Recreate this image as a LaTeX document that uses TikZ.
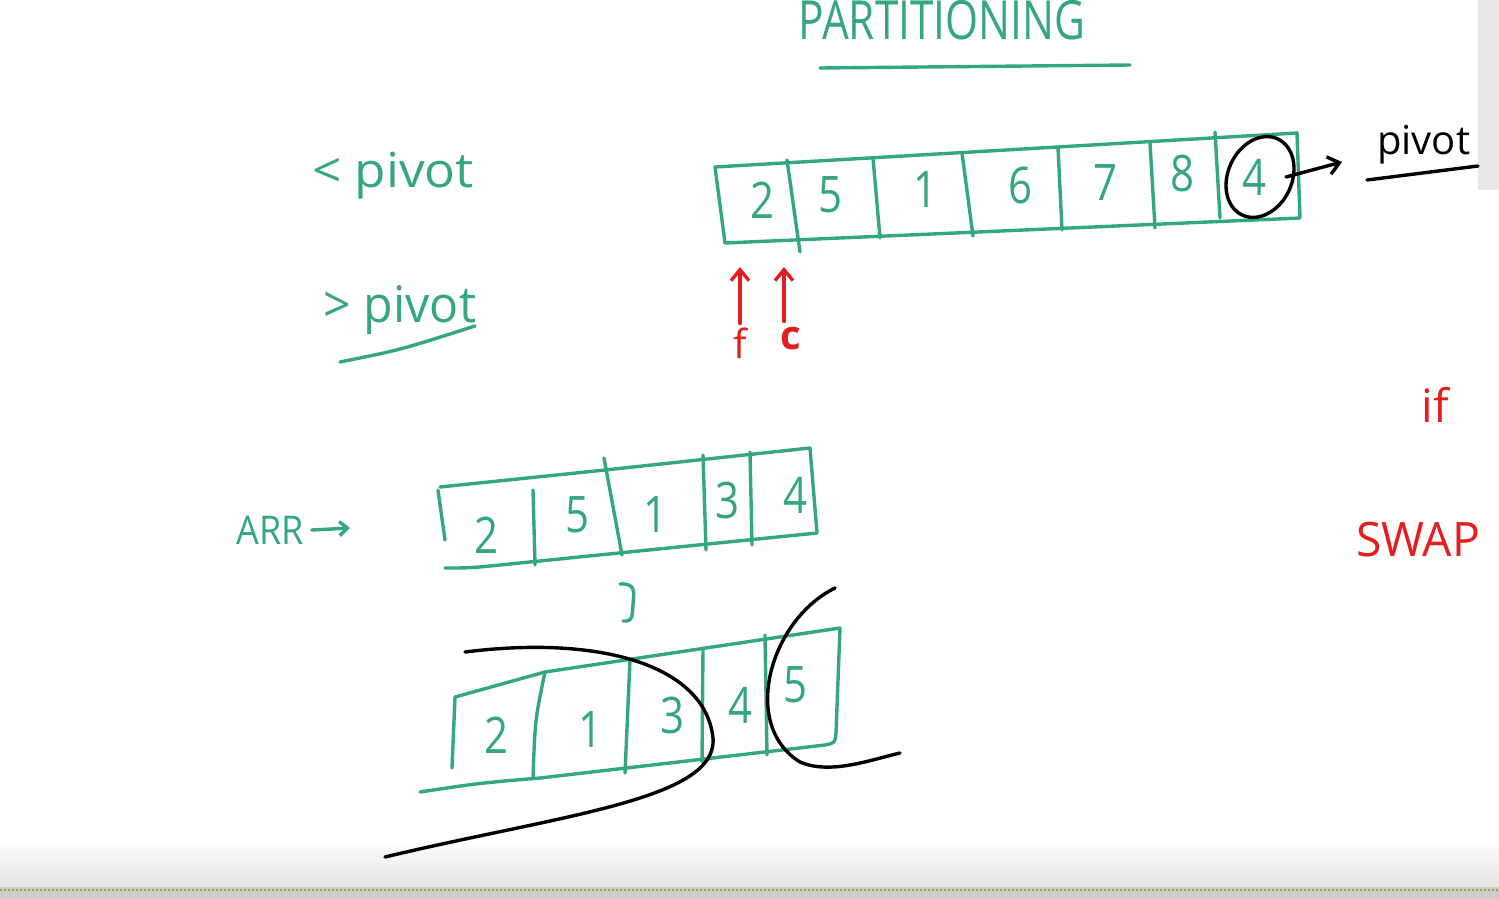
\documentclass[tikz,border=0pt]{standalone}
\usepackage{fontspec}
\setmainfont{Open Sans}
\usetikzlibrary{shapes.geometric,arrows.meta}
\definecolor{ink}{RGB}{52,166,128}
\definecolor{redink}{RGB}{228,30,30}
\begin{document}
\begin{tikzpicture}[x=1pt,y=-1pt,
  gl/.style={draw=ink,line width=3.4pt,line cap=round,line join=round},
  bl/.style={draw=black,line width=3.4pt,line cap=round,line join=round},
  rl/.style={draw=redink,line width=3.4pt,line cap=round,line join=round},
  gtxt/.style={text=ink,inner sep=0pt},
  cell/.style={text=ink,inner sep=0pt,font=\fontsize{42}{42}\selectfont},
  btxt/.style={text=black,inner sep=0pt},
  rtxt/.style={text=redink,inner sep=0pt},
  barb/.style={-{Straight Barb[length=11pt,width=18pt,line width=3.4pt]}}]
\useasboundingbox (0,0) rectangle (1499,899);
% background
\fill[white] (0,0) rectangle (1499,899);
\fill[gray!18] (1478,0) rectangle (1499,190);
\shade[top color=white,bottom color=gray!22] (0,840) rectangle (1499,887);
\fill[gray!40] (0,887) rectangle (1499,899);
\draw[yellow!60!black,line width=2pt,dash pattern=on 2pt off 2pt] (0,890) -- (1499,890);

% title
\node[gtxt,font=\fontsize{40}{40}\selectfont] (title) at (942,20) {\scalebox{1.06}[1.35]{PARTITIONING}};
\coordinate (tu1) at (820,68);
\coordinate (tu2) at (1130,65);
\draw[gl] (tu1) -- (tu2);

% left labels
\node[gtxt,font=\fontsize{42}{42}\selectfont] (lt) at (393,176) {\scalebox{1.22}[1.15]{< pivot}};
\node[gtxt,font=\fontsize{42}{42}\selectfont] (gt) at (400,310) {\scalebox{1.15}[1.2]{> pivot}};
\coordinate (gu1) at (340,362);
\coordinate (gu2) at (475,326);
\draw[gl] (gu1) .. controls (400,350) .. (gu2);

% top array
\draw[gl] (715,167) -- (1297,133) -- (1300,218) -- (725,243) -- cycle;
\draw[gl] (787,160) -- (800,252);
\draw[gl] (873,158) -- (880,238);
\draw[gl] (962,153) -- (973,236);
\draw[gl] (1058,148) -- (1062,230);
\draw[gl] (1150,143) -- (1155,228);
\draw[gl] (1215,132) -- (1220,218);
\node[cell] (a1) at (762,200) {\scalebox{1}[1.2]{2}};
\node[cell] (a2) at (830,195) {\scalebox{1}[1.2]{5}};
\node[cell] (a3) at (925,190) {\scalebox{1}[1.2]{1}};
\node[cell] (a4) at (1020,185) {\scalebox{1}[1.2]{6}};
\node[cell] (a5) at (1105,183) {\scalebox{1}[1.2]{7}};
\node[cell] (a6) at (1182,173) {\scalebox{1}[1.2]{8}};
\node[cell] (a7) at (1254,177) {\scalebox{1}[1.2]{4}};
\node[ellipse,draw=black,line width=3.4pt,minimum width=64pt,minimum height=84pt,rotate=-25] (pv) at (1260,177) {};
\node[btxt,font=\fontsize{40}{40}\selectfont,anchor=west] (pivl) at (1377,145) {pivot};
\coordinate (pu1) at (1367,180);
\coordinate (pu2) at (1478,166);
\draw[bl] (pu1) -- (pu2);
\coordinate (pa) at (1342,162);
\draw[bl,barb] (pv.center) ++(26,0) -- (pa);

% red pointers
\node[rtxt,font=\fontsize{40}{40}\selectfont] (f) at (740,343) {f};
\node[rtxt,font=\bfseries\fontsize{40}{40}\selectfont] (c) at (791,339) {c};
\coordinate (fa) at (740,267);
\coordinate (ca) at (784,267);
\draw[rl,barb] (f.north) ++(0,-4) -- (fa);
\draw[rl,barb] (c.north) ++(-7,-6) -- (ca);

% right red notes
\node[rtxt,font=\fontsize{46}{46}\selectfont] (iff) at (1435,405) {if};
\node[rtxt,font=\fontsize{38}{38}\selectfont,anchor=west] (swap) at (1356,540) {\scalebox{1.22}[1.25]{SWAP}};

% ARR label
\node[gtxt,font=\fontsize{36}{36}\selectfont] (arr) at (270,530) {\scalebox{1}[1.1]{ARR}};
\coordinate (arrend) at (350,528);
\draw[gl,-{Straight Barb[length=8pt,width=14pt,line width=3.4pt]}] (arr.east) ++(8,0) -- (arrend);

% middle array
\draw[gl] (440,487) -- (605,470) -- (810,448) -- (817,533) -- (500,565) .. controls (470,568) .. (445,568);
\draw[gl] (438,490) -- (445,540);
\draw[gl] (533,490) -- (535,565);
\draw[gl] (604,458) -- (622,555);
\draw[gl] (703,455) -- (706,550);
\draw[gl] (750,452) -- (752,545);
\node[cell] (m1) at (487,535) {\scalebox{1}[1.2]{2}};
\node[cell] (m2) at (578,515) {\scalebox{1}[1.2]{5}};
\node[cell] (m3) at (655,515) {\scalebox{1}[1.2]{1}};
\node[cell] (m4) at (727,500) {\scalebox{1}[1.2]{3}};
\node[cell] (m5) at (795,495) {\scalebox{1}[1.2]{4}};

% down hook
\coordinate (h1) at (620,584);
\coordinate (h2) at (623,621);
\draw[gl] (h1) .. controls (636,583) and (634,592) .. (633,604) .. controls (632,614) and (634,622) .. (h2);

% bottom array
\draw[gl] (455,697) -- (545,672) -- (840,628) -- (836,733) .. controls (835,743) .. (825,745) -- (540,778) .. controls (480,783) .. (420,792);
\draw[gl] (455,697) -- (452,768);
\draw[gl] (545,672) .. controls (535,720) .. (533,778);
\draw[gl] (630,660) -- (625,773);
\draw[gl] (703,648) -- (702,762);
\draw[gl] (765,635) -- (767,755);
\node[cell] (b1) at (497,735) {\scalebox{1}[1.2]{2}};
\node[cell] (b2) at (590,730) {\scalebox{1}[1.2]{1}};
\node[cell] (b3) at (672,715) {\scalebox{1}[1.2]{3}};
\node[cell] (b4) at (740,705) {\scalebox{1}[1.2]{4}};
\node[cell] (b5) at (795,685) {\scalebox{1}[1.2]{5}};

% black brackets
\coordinate (k1) at (465,652);
\coordinate (k2) at (385,857);
\draw[bl] (k1) .. controls (600,635) and (705,665) .. (713,738) .. controls (718,800) and (560,815) .. (k2);
\coordinate (q1) at (835,588);
\coordinate (q2) at (900,753);
\draw[bl] (q1) .. controls (770,620) and (740,725) .. (800,762) .. controls (830,775) and (870,760) .. (q2);
\end{tikzpicture}
\end{document}
